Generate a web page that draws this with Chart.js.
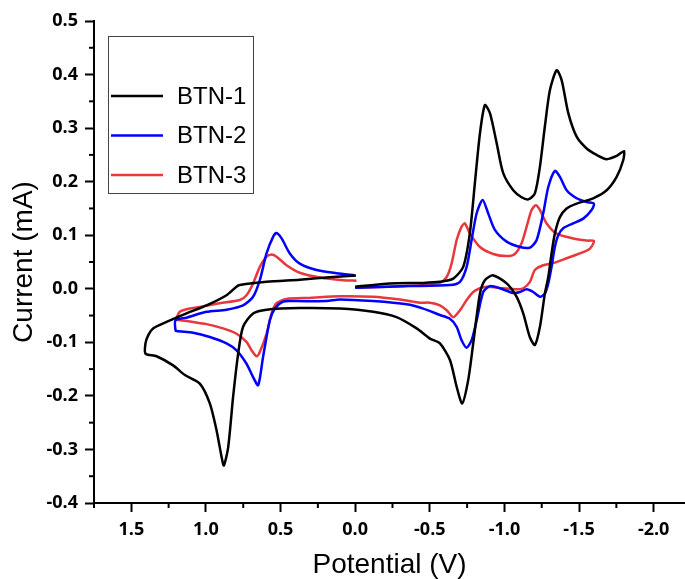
<!DOCTYPE html>
<html>
<head>
<meta charset="utf-8">
<script src="https://cdn.jsdelivr.net/npm/chart.js@4"></script>
<style>
  html, body { margin: 0; padding: 0; background: #ffffff; overflow: hidden; }
  canvas { display: block; }
</style>
</head>
<body>
<canvas id="cvChart" width="685" height="579"></canvas>
<script>
/* DATA */
const seriesLabels = ['BTN-1', 'BTN-2', 'BTN-3'];
const seriesColors = ['#000000', '#0000ff', '#e8383d'];

const btn1Potential = [0.00, -0.233, -0.456, -0.568, -0.657, -0.724, -0.768, -0.802, -0.836, -0.869, -0.903, -0.948, -0.992, -1.059, -1.115, -1.160, -1.204, -1.238, -1.271, -1.305, -1.350, -1.383, -1.428, -1.484, -1.551, -1.618, -1.685, -1.752, -1.801,
  -1.796, -1.752, -1.685, -1.595, -1.484, -1.417, -1.372, -1.338, -1.316, -1.294, -1.271, -1.238, -1.204, -1.170, -1.126, -1.082, -1.015, -0.925, -0.869, -0.836, -0.791, -0.757, -0.717, -0.680, -0.635, -0.568, -0.501, -0.412, -0.277, -0.121, 0.103, 0.371, 0.594, 0.684, 0.751, 0.784, 0.818, 0.851, 0.880, 0.895, 0.929, 0.974, 1.041, 1.141, 1.220, 1.331, 1.405,
  1.405, 1.387, 1.354, 1.264, 1.130, 0.996, 0.862, 0.795, 0.773, 0.594, 0.371, 0.149, -0.005];
const btn1Current = [0.004, 0.010, 0.011, 0.013, 0.019, 0.041, 0.103, 0.197, 0.290, 0.343, 0.328, 0.272, 0.216, 0.184, 0.171, 0.167, 0.178, 0.228, 0.303, 0.371, 0.408, 0.390, 0.328, 0.284, 0.262, 0.250, 0.242, 0.248, 0.257,
  0.240, 0.209, 0.184, 0.169, 0.159, 0.150, 0.134, 0.103, 0.066, 0.022, -0.009, -0.071, -0.105, -0.090, -0.046, -0.015, 0.010, 0.025, 0.016, -0.009, -0.102, -0.171, -0.214, -0.183, -0.133, -0.102, -0.093, -0.074, -0.053, -0.043, -0.037, -0.036, -0.039, -0.046, -0.071, -0.121, -0.202, -0.296, -0.330, -0.314, -0.264, -0.214, -0.177, -0.161, -0.143, -0.126, -0.121,
  -0.102, -0.087, -0.074, -0.062, -0.046, -0.031, -0.012, 0.004, 0.007, 0.013, 0.017, 0.022, 0.025];

const btn2Potential = [0.00, -0.345, -0.635, -0.702, -0.747, -0.780, -0.814, -0.854, -0.891, -0.936, -1.015, -1.104, -1.171, -1.216, -1.260, -1.294, -1.338, -1.372, -1.417, -1.484, -1.551, -1.600,
  -1.584, -1.528, -1.461, -1.394, -1.361, -1.338, -1.316, -1.294, -1.271, -1.238, -1.193, -1.149, -1.104, -1.059, -0.970, -0.903, -0.858, -0.814, -0.780, -0.747, -0.713, -0.680, -0.635, -0.568, -0.456, -0.345, -0.121, 0.103, 0.192, 0.416, 0.483, 0.538, 0.572, 0.617, 0.650, 0.684, 0.728, 0.795, 0.862, 0.974, 1.086, 1.197, 1.204,
  1.204, 1.130, 0.996, 0.862, 0.751, 0.684, 0.639, 0.594, 0.550, 0.527, 0.493, 0.438, 0.371, 0.259, 0.125, 0.002];
const btn2Current = [0.002, 0.005, 0.007, 0.013, 0.041, 0.091, 0.141, 0.166, 0.141, 0.110, 0.088, 0.078, 0.077, 0.091, 0.141, 0.190, 0.220, 0.209, 0.184, 0.169, 0.162, 0.159,
  0.147, 0.131, 0.122, 0.113, 0.100, 0.078, 0.041, 0.010, -0.009, -0.015, -0.006, -0.001, -0.006, -0.008, 0.001, 0.005, -0.006, -0.059, -0.096, -0.110, -0.096, -0.071, -0.056, -0.049, -0.037, -0.029, -0.023, -0.020, -0.023, -0.023, -0.024, -0.037, -0.059, -0.127, -0.180, -0.165, -0.140, -0.115, -0.102, -0.090, -0.082, -0.079, -0.077,
  -0.059, -0.054, -0.043, -0.039, -0.031, -0.015, 0.016, 0.066, 0.097, 0.104, 0.094, 0.066, 0.047, 0.035, 0.029, 0.025];

const btn3Potential = [0.00, -0.345, -0.568, -0.613, -0.646, -0.680, -0.713, -0.735, -0.769, -0.836, -0.925, -1.015, -1.070, -1.115, -1.149, -1.182, -1.211, -1.238, -1.283, -1.350, -1.461, -1.551, -1.600,
  -1.573, -1.506, -1.417, -1.327, -1.260, -1.204, -1.171, -1.126, -1.082, -0.992, -0.881, -0.836, -0.791, -0.747, -0.702, -0.657, -0.613, -0.568, -0.501, -0.434, -0.389, -0.300, -0.121, 0.103, 0.304, 0.460, 0.527, 0.560, 0.594, 0.639, 0.661, 0.694, 0.728, 0.795, 0.885, 0.996, 1.108, 1.197,
  1.190, 1.175, 1.141, 1.041, 0.907, 0.773, 0.728, 0.684, 0.639, 0.594, 0.560, 0.527, 0.460, 0.371, 0.237, 0.080, -0.009];
const btn3Current = [0.002, 0.005, 0.011, 0.022, 0.047, 0.091, 0.116, 0.122, 0.103, 0.078, 0.065, 0.061, 0.065, 0.085, 0.116, 0.147, 0.156, 0.147, 0.122, 0.103, 0.094, 0.090, 0.089,
  0.075, 0.066, 0.057, 0.048, 0.044, 0.035, 0.013, 0.001, -0.001, 0.001, 0.004, 0.001, -0.006, -0.021, -0.040, -0.053, -0.040, -0.031, -0.026, -0.026, -0.024, -0.020, -0.015, -0.014, -0.017, -0.019, -0.027, -0.046, -0.084, -0.118, -0.126, -0.115, -0.099, -0.084, -0.074, -0.066, -0.061, -0.057,
  -0.050, -0.043, -0.039, -0.034, -0.027, -0.021, -0.012, 0.010, 0.041, 0.060, 0.064, 0.060, 0.044, 0.030, 0.021, 0.016, 0.015];

const potentialRange = [-2.21, 1.75];
const currentRange = [-0.4, 0.5];
const xTitle = 'Potential (V)';
const yTitle = 'Current (mA)';

function toPoints(xs, ys) {
  return xs.map((x, i) => ({ x: x, y: ys[i] }));
}

const curves = [
  toPoints(btn1Potential, btn1Current),
  toPoints(btn2Potential, btn2Current),
  toPoints(btn3Potential, btn3Current)
];

/* minor ticks between the labelled ones */
const minorTicks = {
  id: 'minorTicks',
  afterDraw(chart) {
    const ctx = chart.ctx;
    ctx.save();
    ctx.strokeStyle = '#000';
    ctx.lineWidth = 2;
    ['x', 'y'].forEach(id => {
      const scale = chart.scales[id];
      const half = id === 'x' ? 0.25 : 0.05;
      const start = Math.ceil(scale.min / half - 1e-6);
      const end = Math.floor(scale.max / half + 1e-6);
      for (let k = start; k <= end; k++) {
        if (k % 2 === 0) continue;
        const p = scale.getPixelForValue(k * half);
        ctx.beginPath();
        if (id === 'x') {
          ctx.moveTo(p, chart.chartArea.bottom);
          ctx.lineTo(p, chart.chartArea.bottom + 5);
        } else {
          ctx.moveTo(chart.chartArea.left, p);
          ctx.lineTo(chart.chartArea.left - 5, p);
        }
        ctx.stroke();
      }
    });
    ctx.restore();
  }
};

/* boxed legend inside the plot */
const boxLegend = {
  id: 'boxLegend',
  afterDatasetsDraw(chart) {
    const ctx = chart.ctx;
    ctx.save();
    ctx.fillStyle = '#ffffff';
    ctx.fillRect(108.5, 36.5, 145, 157);
    ctx.strokeStyle = '#444';
    ctx.lineWidth = 1;
    ctx.strokeRect(108.5, 36.5, 145, 157);
    ctx.font = '24px "Liberation Sans", Arial, sans-serif';
    ctx.textBaseline = 'middle';
    chart.data.datasets.forEach((ds, i) => {
      const y = 96 + i * 39.5;
      ctx.strokeStyle = ds.borderColor;
      ctx.lineWidth = 2.5;
      ctx.beginPath();
      ctx.moveTo(111, y);
      ctx.lineTo(163, y);
      ctx.stroke();
      ctx.fillStyle = '#000';
      ctx.fillText(ds.label, 177, y + 1);
    });
    ctx.restore();
  }
};

const tickFont = { family: '"Open Sans", sans-serif', size: 18, weight: 'bold' };
const titleFont = { family: '"Liberation Sans", Arial, sans-serif', size: 28, lineHeight: 1 };

new Chart(document.getElementById('cvChart').getContext('2d'), {
  type: 'scatter',
  data: {
    datasets: curves.map((pts, i) => ({
      label: seriesLabels[i],
      data: pts,
      showLine: true,
      borderColor: seriesColors[i],
      backgroundColor: seriesColors[i],
      borderWidth: 2.5,
      pointRadius: 0,
      tension: 0.25
    }))
  },
  options: {
    responsive: false,
    devicePixelRatio: 1,
    animation: false,
    layout: { padding: { top: 21, right: 0, bottom: 0, left: 0 } },
    plugins: {
      legend: { display: false },
      tooltip: { enabled: false }
    },
    scales: {
      x: {
        type: 'linear',
        reverse: true,
        min: potentialRange[0],
        max: potentialRange[1],
        afterFit: s => { s.height = 76; },
        border: { display: true, color: '#000', width: 2 },
        grid: { drawOnChartArea: false, drawTicks: true, tickLength: 9, tickWidth: 2, tickColor: '#000' },
        ticks: {
          stepSize: 0.5,
          includeBounds: false,
          color: '#000',
          font: tickFont,
          padding: 7,
          maxRotation: 0,
          callback: v => Number(v).toFixed(1)
        },
        title: { display: true, text: xTitle, color: '#000', font: titleFont, padding: { top: 0, bottom: 0 } }
      },
      y: {
        type: 'linear',
        min: currentRange[0],
        max: currentRange[1],
        afterFit: s => { s.width = 94; },
        border: { display: true, color: '#000', width: 2 },
        grid: { drawOnChartArea: false, drawTicks: true, tickLength: 9, tickWidth: 2, tickColor: '#000' },
        ticks: {
          stepSize: 0.1,
          includeBounds: false,
          color: '#000',
          font: tickFont,
          padding: 7,
          callback: v => Number(v).toFixed(1)
        },
        title: { display: true, text: yTitle, color: '#000', font: titleFont, padding: { top: 10, bottom: 0 } }
      }
    }
  },
  plugins: [minorTicks, boxLegend]
});
</script>
</body>
</html>
